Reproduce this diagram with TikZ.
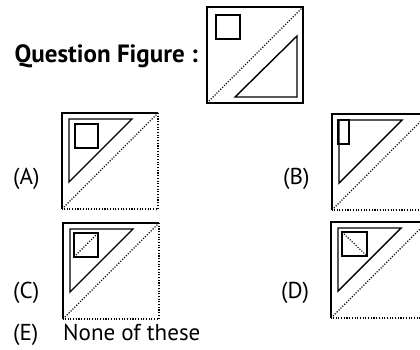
\documentclass[tikz,border=0pt]{standalone}
\usepackage{fontspec}
\setmainfont{PT Sans}
\usepackage{tikz}
\usetikzlibrary{positioning}
\newcommand\optfont{\fontsize{23pt}{27pt}\selectfont}
\newcommand\titlefont{\fontsize{25pt}{30pt}\selectfont\bfseries}

\begin{document}
\begin{tikzpicture}[x=1pt, y=-1pt,
  solidline/.style={line width=1.4pt, line join=miter},
  dotline/.style={line width=1.1pt, dash pattern=on 1.1pt off 1.6pt},
  optlabel/.style={anchor=base west, inner sep=0pt, font=\optfont},
  titlelabel/.style={anchor=base east, inner sep=0pt, font=\titlefont},
  optframe/.pic={
    \draw[solidline] (0,96) -- (0,0) -- (96,0);
    \draw[dotline] (96,0) -- (96,96) -- (0,96);
    \draw[dotline] (0,96) -- (96,0);
    \draw[solidline] (7,6) -- (70,6) -- (7,69) -- cycle;
  }
]
\useasboundingbox (0,0) rectangle (420,349);
\clip (0,0) rectangle (420,349);

% Labels
\node[titlelabel] (title) at (198,62) {Question Figure :};
\node[optlabel] (labA) at (13,184) {(A)};
\node[optlabel] (labB) at (283,184) {(B)};
\node[optlabel] (labC) at (13,298) {(C)};
\node[optlabel] (labD) at (281,298) {(D)};
\node[optlabel] (labE) at (13,340) {(E)};
\node[optlabel] (none) at (63,340) {None of these};

% Question figure
\draw[solidline] (207,7) rectangle (303,103);
\draw[dotline] (207,103) -- (303,7);
\draw[solidline] (216,15) rectangle (240,39);
\draw[solidline] (235,97) -- (297,97) -- (297,36) -- cycle;

% Answer figures
\pic at (62,113) {optframe};
\draw[solidline] (75,124) rectangle (98,148);

\pic at (332,114) {optframe};
\draw[solidline] (338,120) rectangle (349,144);

\pic at (63,223) {optframe};
\draw[solidline] (74,233) rectangle (98,257);
\draw[dotline] (74,257) -- (98,233);

\pic at (331,222) {optframe};
\draw[solidline] (342,232) rectangle (367,256);
\draw[dotline] (342,232) -- (367,256);

\end{tikzpicture}
\end{document}
